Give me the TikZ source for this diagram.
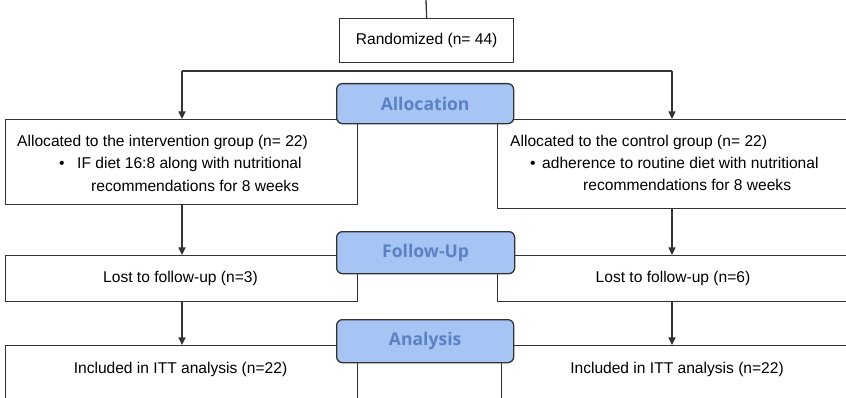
\documentclass[tikz,border=0pt]{standalone}
\usepackage{fontspec}
\setmainfont{Liberation Sans}
\newfontfamily\lblfont{Open Sans}
\usetikzlibrary{arrows.meta}
\definecolor{lblfill}{HTML}{A6C4F4}
\definecolor{lbltext}{HTML}{5A82C2}
\definecolor{ln}{HTML}{333333}
\begin{document}
\begin{tikzpicture}[x=0.03cm,y=-0.03cm,
  box/.style={draw=ln, line width=1.1pt, inner sep=0pt, anchor=north west, font=\fontsize{13.3pt}{16pt}\selectfont},
  lbl/.style={draw=ln, line width=1.1pt, fill=lblfill, rounded corners=5pt, inner sep=0pt, anchor=north west,
    text=lbltext, font=\lblfont\bfseries\fontsize{15pt}{18pt}\selectfont},
  txt/.style={inner sep=0pt, anchor=base west, font=\fontsize{13.3pt}{16pt}\selectfont},
  ctxt/.style={inner sep=0pt, anchor=base, font=\fontsize{13.3pt}{16pt}\selectfont},
  conn/.style={draw=ln, line width=1.1pt},
  arr/.style={conn, -{Triangle[length=6.5pt,width=6pt]}}
]
\useasboundingbox (0,0) rectangle (846,398);
\clip (0,0) rectangle (846,398);
\fill[white] (0,0) rectangle (846,398);

% boxes
\node[box, minimum width=5.22cm, minimum height=1.32cm] (rand) at (339,18) {Randomized (n= 44)};
\node[box, minimum width=10.56cm, minimum height=2.55cm] (a1) at (5,119) {};
\node[box, minimum width=11.19cm, minimum height=2.67cm] (a2) at (497,119) {};
\node[box, minimum width=10.56cm, minimum height=1.38cm] (f1) at (5,255) {};
\node[box, minimum width=11.19cm, minimum height=1.38cm] (f2) at (497,255) {};
\node[box, minimum width=10.56cm, minimum height=2.4cm] (i1) at (5,345) {};
\node[box, minimum width=11.07cm, minimum height=2.4cm] (i2) at (501,345) {};

% texts
\node[txt] (a1t1) at (17,147) {Allocated to the intervention group (n= 22)};
\node[txt] (a1b) at (59,168) {•};
\node[txt] (a1t2) at (77,168) {IF diet 16:8 along with nutritional};
\node[txt] (a1t3) at (91,191) {recommendations for 8 weeks};
\node[txt] (a2t1) at (510,147) {Allocated to the control group (n= 22)};
\node[txt] (a2b) at (530,168) {•};
\node[txt] (a2t2) at (542,168) {adherence to routine diet with nutritional};
\node[txt] (a2t3) at (583,190) {recommendations for 8 weeks};
\node[ctxt] (f1t) at (180.5,282) {Lost to follow-up (n=3)};
\node[ctxt] (f2t) at (673,282) {Lost to follow-up (n=6)};
\node[ctxt] (i1t) at (180.5,373) {Included in ITT analysis (n=22)};
\node[ctxt] (i2t) at (677,373) {Included in ITT analysis (n=22)};

% connectors
\coordinate (top) at (426,0);
\coordinate (sL) at (182,71);
\coordinate (sR) at (672,71);
\draw[conn] (top) -- (rand.north);
\draw[conn] (sL) -- (sR);
\draw[arr] (sL) -- (sL |- a1.north);
\draw[arr] (sR) -- (sR |- a2.north);
\draw[arr] (sL |- a1.south) -- (sL |- f1.north);
\draw[arr] (sR |- a2.south) -- (sR |- f2.north);
\draw[arr] (sL |- f1.south) -- (sL |- i1.north);
\draw[arr] (sR |- f2.south) -- (sR |- i2.north);

% phase labels
\node[lbl, minimum width=5.31cm, minimum height=1.2cm] (alloc) at (336,83) {Allocation};
\node[lbl, minimum width=5.34cm, minimum height=1.26cm] (fup) at (336,231) {Follow-Up};
\node[lbl, minimum width=5.31cm, minimum height=1.29cm] (ana) at (336,319) {Analysis};
\end{tikzpicture}
\end{document}
